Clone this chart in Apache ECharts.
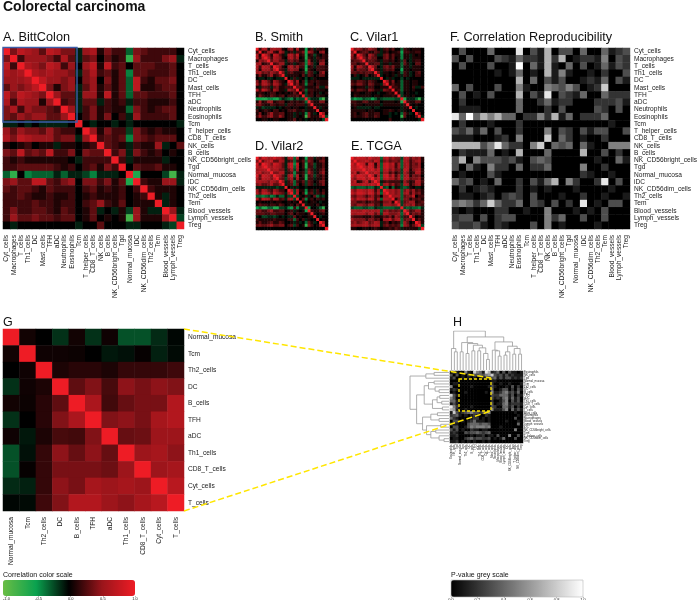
<!DOCTYPE html>
<html>
<head>
<meta charset="utf-8">
<script src="https://cdn.jsdelivr.net/npm/echarts@6/dist/echarts.min.js"></script>
<style>html,body{margin:0;padding:0;background:#fff}#chartmain{width:700px;height:600px}</style>
</head>
<body>
<div id="chartmain"></div>
<script>
var font = '"Liberation Sans", Arial, sans-serif';

var cellNames = ['Cyt_cells','Macrophages','T_cells','Th1_cells','DC','Mast_cells','TFH','aDC','Neutrophils','Eosinophils','Tcm','T_helper_cells','CD8_T_cells','NK_cells','B_cells','NK_CD56bright_cells','Tgd','Normal_mucosa','iDC','NK_CD56dim_cells','Th2_cells','Tem','Blood_vessels','Lymph_vessels','Treg'];
var zoomNames = ['Normal_mucosa','Tcm','Th2_cells','DC','B_cells','TFH','aDC','Th1_cells','CD8_T_cells','Cyt_cells','T_cells'];
var clusterNames = ['Eosinophils','NK_cells','Tgd','Normal_mucosa','Tcm','Th2_cells','DC','B_cells','TFH','aDC','Th1_cells','CD8_T_cells','Cyt_cells','T_cells','Mast_cells','Neutrophils','Macrophages','Blood_vessels','Lymph_vessels','iDC','NK_CD56bright_cells','Tem','T_helper_cells','NK_CD56dim_cells','Treg'];

// upper triangles, in tenths
var bittColon = [
[10,4,7,6,5,3,7,6,4,4,-1,5,6,1,4,2,2,-3,4,3,2,2,2,2,0],
[10,2,5,5,5,4,2,6,3,-1,3,4,0,3,1,2,-7,5,2,2,2,4,5,-1],
[10,6,5,4,7,6,2,5,0,5,7,1,7,2,3,0,3,3,3,2,2,3,0],
[10,6,5,6,5,5,4,-1,4,6,2,3,1,3,-4,3,3,2,2,2,3,0],
[10,7,5,5,4,5,0,4,5,0,4,1,3,-3,7,2,1,3,3,4,0],
[10,4,1,4,5,-1,3,5,1,3,1,3,-3,7,1,1,2,3,3,0],
[10,5,3,3,-1,5,5,1,7,1,3,-3,3,3,2,2,2,3,0],
[10,2,3,-1,3,3,-1,2,1,2,-1,2,2,1,1,1,2,0],
[10,5,-1,2,4,1,2,1,1,-3,4,2,1,2,3,3,0],
[10,0,2,4,1,4,0,2,-1,5,2,2,2,2,3,0],
[10,0,-1,0,0,-1,0,-1,0,0,0,0,0,0,-1],
[10,5,1,4,2,2,-2,4,2,1,2,1,1,0],
[10,2,3,2,3,-4,4,3,2,3,3,3,0],
[10,3,2,1,-1,2,1,1,5,-1,0,3],
[10,2,4,-1,4,2,1,2,0,1,0],
[10,2,-1,1,1,1,1,-1,0,0],
[10,0,3,2,2,3,1,1,0],
[10,-6,0,0,0,-2,-8,-1],
[10,2,1,1,5,5,-1],
[10,2,1,1,1,0],
[10,1,-1,1,0],
[10,-1,1,0],
[10,5,-1],
[10,-2],
[10]];

var smith = [
[10,2,6,6,1,5,6,5,5,1,0,4,5,1,6,1,1,-5,1,3,-1,2,1,2,0],
[10,1,2,5,6,2,1,6,4,-1,1,2,-1,2,2,4,-5,5,4,1,0,4,5,0],
[10,7,4,1,7,6,3,1,-1,6,6,3,7,1,2,-6,1,2,-2,1,0,2,1],
[10,5,2,6,5,4,1,0,5,6,3,5,0,1,-6,2,1,-1,2,1,2,1],
[10,3,5,5,3,3,-1,3,4,2,3,1,1,-4,5,1,-1,1,3,4,0],
[10,2,3,5,5,-1,1,2,-1,1,2,3,-4,5,3,-1,0,5,5,0],
[10,7,4,1,0,5,6,3,5,2,2,-5,1,2,-1,2,2,2,1],
[10,3,2,-1,4,5,4,4,0,1,-6,2,1,0,2,2,2,1],
[10,4,-1,2,3,1,1,1,2,-3,3,2,-1,0,3,5,0],
[10,-1,1,1,1,1,0,3,-1,3,2,0,1,3,3,0],
[10,0,-1,2,-1,1,0,-2,0,-1,1,0,0,0,0],
[10,6,2,5,0,2,-3,1,2,1,2,1,1,1],
[10,2,4,1,2,-4,2,2,0,2,1,1,1],
[10,3,3,2,-1,1,1,1,3,-1,-1,3],
[10,1,3,-3,2,2,1,1,1,1,0],
[10,1,-2,1,2,0,1,-1,0,1],
[10,-2,2,2,0,2,1,1,0],
[10,-3,-1,-1,-1,-4,-8,-1],
[10,3,1,1,4,4,0],
[10,1,1,1,1,1],
[10,1,-1,1,0],
[10,0,1,1],
[10,5,0],
[10,-2],
[10]];

var vilar1 = [
[10,4,5,4,2,3,5,4,3,0,-1,2,3,1,3,0,0,-3,2,1,0,1,1,1,0],
[10,1,2,3,3,1,1,3,2,-1,1,2,0,1,1,2,-5,2,2,1,1,2,2,0],
[10,6,3,1,6,4,2,-1,-1,3,4,1,3,1,1,-4,1,1,-1,1,0,1,0],
[10,4,2,5,3,3,0,0,3,4,1,3,0,1,-4,1,1,-1,1,1,1,0],
[10,2,3,3,2,1,-1,2,2,1,2,0,1,-2,3,0,-1,1,2,2,0],
[10,2,2,3,3,-1,1,1,-1,1,1,1,-3,3,1,-1,0,3,3,0],
[10,6,3,0,-1,3,4,2,4,1,1,-3,1,1,-1,1,1,1,0],
[10,2,1,-1,2,3,2,3,0,0,-5,1,1,0,1,1,1,0],
[10,3,-1,1,1,0,1,0,1,-3,2,1,-1,0,2,3,0],
[10,-1,0,1,0,1,-1,1,-1,2,1,-1,0,2,2,0],
[10,0,-1,1,-1,0,0,-2,0,-1,0,0,0,0,0],
[10,5,1,4,0,1,-3,1,1,0,1,1,0,0],
[10,1,3,1,1,-3,1,1,0,1,1,0,0],
[10,2,2,1,-3,1,1,0,2,-1,-1,2],
[10,1,2,-3,1,1,0,1,0,0,0],
[10,1,-2,0,1,0,0,-1,0,0],
[10,-2,1,1,0,1,0,0,0],
[10,-6,-1,-1,-1,-3,-7,-1],
[10,2,1,1,3,3,0],
[10,1,0,1,0,0],
[10,0,-1,0,0],
[10,0,0,0],
[10,3,0],
[10,-1],
[10]];

var vilar2 = [
[10,4,8,7,5,6,8,6,6,4,-1,5,6,-3,6,0,1,-5,3,3,-1,2,1,3,0],
[10,3,5,6,7,3,3,6,5,-1,2,3,-3,2,1,3,-3,4,3,0,1,3,4,0],
[10,8,6,4,8,7,5,3,-1,6,7,-4,7,0,2,-6,2,3,-2,1,1,3,0],
[10,6,5,7,6,5,3,-1,5,7,-3,6,0,2,-6,2,2,-2,1,1,3,0],
[10,5,6,6,4,4,-1,3,5,-2,5,0,1,-3,4,2,-1,1,2,4,0],
[10,4,4,6,6,-1,2,3,-4,2,1,2,-3,5,3,-1,1,3,5,0],
[10,7,5,3,-1,5,7,-3,6,0,2,-6,2,3,-2,2,1,3,0],
[10,4,3,-2,4,5,-1,5,1,1,-6,2,2,-1,1,1,3,0],
[10,5,-1,2,4,-3,2,1,3,-2,3,2,0,1,3,4,0],
[10,-1,2,3,-3,3,0,2,-2,3,2,-1,1,2,4,0],
[10,0,-1,1,-1,0,0,-1,0,0,0,0,0,0,0],
[10,6,-2,5,1,1,-4,1,2,-1,2,0,2,0],
[10,-2,6,0,2,-5,2,3,-1,2,1,3,0],
[10,-2,1,0,2,-1,0,3,-3,-1,-2,0],
[10,0,3,-4,1,2,0,2,1,2,0],
[10,1,-1,0,1,1,0,-1,0,0],
[10,-1,1,1,0,2,0,1,0],
[10,-5,0,0,-1,-3,-7,0],
[10,2,1,1,3,4,0],
[10,1,0,1,2,0],
[10,0,-1,0,0],
[10,0,1,0],
[10,5,0],
[10,0],
[10]];

var tcga = [
[10,6,8,7,7,5,8,6,5,6,-3,6,7,4,6,4,4,-2,6,6,3,5,4,5,1],
[10,5,6,6,7,5,4,7,6,-2,4,5,3,4,4,3,-3,6,5,2,4,5,6,1],
[10,8,7,2,8,7,1,6,-3,7,8,5,7,2,5,-3,5,6,2,4,3,5,0],
[10,7,5,8,7,2,6,-3,7,8,5,6,2,5,-3,5,6,2,4,4,5,0],
[10,6,7,8,5,7,-3,6,7,4,6,3,4,-2,7,6,1,4,5,6,1],
[10,5,5,7,6,-2,5,5,2,4,1,3,-2,6,4,1,2,6,6,1],
[10,7,2,6,-3,7,8,4,7,2,5,-3,5,6,1,4,3,4,0],
[10,5,7,-3,6,7,5,6,3,5,-3,6,6,3,4,4,5,1],
[10,6,-1,2,3,2,2,2,2,-1,5,3,1,2,6,6,2],
[10,-2,5,6,3,5,2,3,-2,6,5,1,3,5,6,1],
[10,-2,-3,0,-3,1,-1,-2,-3,-2,1,0,-1,-1,0],
[10,7,5,6,4,5,-3,4,6,3,5,2,3,1],
[10,5,6,4,5,-3,5,6,2,5,3,4,1],
[10,5,5,5,-3,3,4,4,7,0,2,2],
[10,1,4,-3,4,4,1,3,2,3,1],
[10,5,-2,3,4,5,5,1,2,3],
[10,-2,4,5,4,6,2,3,2],
[10,-2,-3,-2,-3,-3,-4,-1],
[10,5,2,3,5,5,1],
[10,2,4,3,4,1],
[10,3,0,1,1],
[10,1,3,1],
[10,6,1],
[10,-2],
[10]];

var reproducibility = [
[0,3,0,0,0,4,0,0,0,9,0,3,1,7,0,3,3,0,4,0,0,4,1,2,3],
[0,3,0,0,0,3,2,1,4,2,2,1,7,2,7,0,1,2,2,1,5,0,3,2],
[0,0,0,3,0,0,1,10,0,4,1,7,1,0,4,0,3,0,1,4,1,3,2],
[0,0,0,1,0,1,4,0,1,0,7,1,5,1,0,0,1,0,2,0,0,3],
[0,0,0,0,0,7,0,4,0,3,1,3,0,0,1,2,1,4,0,3,1],
[0,3,0,0,5,1,0,0,5,4,3,5,3,0,1,2,8,0,0,0],
[0,0,0,7,0,3,1,9,0,3,2,1,4,0,0,4,2,2,2],
[0,0,4,0,0,2,4,1,2,2,0,0,0,2,2,2,3,1],
[0,4,0,0,0,2,0,3,0,0,0,0,3,2,0,3,0],
[0,2,2,5,2,7,1,4,0,2,2,2,4,0,0,0],
[0,0,0,0,0,0,0,0,0,0,0,0,1,0,0],
[0,0,5,0,3,2,0,3,1,3,3,0,0,3],
[0,8,0,4,2,0,1,0,0,2,0,0,0],
[0,4,3,4,0,4,1,0,0,5,5,5],
[0,0,0,0,7,0,0,3,0,2,0],
[0,0,0,0,0,1,0,0,4,1],
[0,0,5,0,0,2,0,0,0],
[0,2,1,0,0,1,0,0],
[0,0,2,9,0,3,0],
[0,0,0,1,0,0],
[0,1,0,0,1],
[0,3,3,0],
[0,0,0],
[0,0],
[0]];

var zoomCorr = [
[1,0.06,0,-0.15,0.06,-0.15,0.05,-0.25,-0.25,-0.13,-0.02],
[1,0.05,0.05,0.04,0,-0.07,-0.05,0.02,-0.1,-0.03],
[1,0.09,0.13,0.13,0.09,0.17,0.17,0.17,0.2],
[1,0.31,0.42,0.23,0.46,0.39,0.46,0.42],
[1,0.6,0.21,0.33,0.39,0.39,0.64],
[1,0.42,0.46,0.39,0.57,0.64],
[1,0.33,0.35,0.52,0.52],
[1,0.52,0.57,0.46],
[1,0.52,0.57],
[1,0.68],
[1]];

var clusterP = [
[0,3,1,0,0,5,1,0,8,5,4,1,9,7,1,2,4,0,3,0,3,1,1,0,1],
[0,3,0,1,0,2,1,3,3,4,3,5,6,8,3,2,3,1,3,1,2,1,1,1],
[0,0,1,0,1,0,1,0,1,1,2,1,3,4,1,3,1,3,3,1,2,1,2],
[0,0,0,0,0,0,0,0,0,0,0,1,1,0,0,0,0,0,0,0,0,0],
[0,0,0,0,0,0,0,0,0,0,2,0,0,1,0,0,1,0,0,0,1],
[0,0,1,0,0,0,0,0,1,3,1,0,0,0,1,0,3,0,2,0],
[0,0,0,0,0,0,0,0,4,0,0,1,3,3,0,2,0,3,1],
[0,0,0,0,0,1,0,5,1,1,2,4,5,2,3,1,4,0],
[0,0,0,0,0,0,3,2,2,4,4,4,1,3,0,2,1],
[0,0,0,0,0,3,1,2,1,4,5,1,4,1,3,0],
[0,0,0,0,2,0,0,1,3,5,0,3,1,3,0],
[0,0,0,3,0,1,1,4,5,1,2,2,2,1],
[0,0,3,2,0,0,4,4,1,3,0,2,0],
[0,5,1,1,1,3,5,0,4,1,3,1],
[0,0,0,0,0,0,0,0,1,0,0],
[0,0,0,0,0,0,0,0,1,0],
[0,0,0,0,0,0,3,0,0],
[0,0,1,0,0,0,1,0],
[0,0,0,0,0,4,0],
[0,0,0,0,0,0],
[0,0,5,0,0],
[0,0,0,0],
[0,3,0],
[0,0],
[0]];

// merges: [position a, height a, position b, height b, joined height]
var topTree = [
[1.5,0,2.5,0,55],[0.5,0,2,55,65],[3.5,0,4.5,0,55],[12.5,0,13.5,0,32],[11.5,0,13,32,50],[9.5,0,10.5,0,58],[10,58,12.25,50,67],
[7.5,0,8.5,0,58],[8,58,11.1,67,75],[5.5,0,6.5,0,50],[6,50,9.5,75,80],[4,55,7.8,80,83],
[16.5,0,17.5,0,42],[15.5,0,17,42,58],[14.5,0,16.25,58,60],[18.5,0,19.5,0,45],[19,45,20.5,0,55],[21.5,0,22.5,0,48],[23.5,0,24.5,0,48],[22,48,24,48,65],[19.75,55,23,65,72],[15.4,60,21.4,72,85],
[5.9,83,18.4,85,100],[1.25,65,12.1,100,118]];
var leftTree = [
[0.5,0,1.5,0,45],[1,45,2.5,0,70],[3.5,0,4.5,0,45],[6.5,0,7.5,0,30],[5.5,0,7,30,42],[4,45,6.25,42,62],
[8.5,0,9.5,0,28],[10.5,0,11.5,0,22],[9,28,11,22,36],[12.5,0,13.5,0,20],[10,36,13,20,50],[5.1,62,11.5,50,75],
[14.5,0,15.5,0,35],[16.5,0,17.5,0,30],[15,35,17,30,55],[18.5,0,19.5,0,25],[20.5,0,21.5,0,40],[23.5,0,24.5,0,15],[22.5,0,24,15,30],[21,40,23.25,30,55],[19,25,22.1,55,68],[16,55,20.5,68,80],
[8.3,75,18.3,80,98],[1.75,70,13.3,98,118]];

var corrTicks = [-1, -0.5, 0, 0.5, 1];

function mirror(tri) {
    var out = [];
    for (var i = 0; i < tri.length; i++) {
        for (var k = 0; k < tri[i].length; k++) {
            out.push([i + k, i, tri[i][k]]);
            if (k > 0) out.push([i, i + k, tri[i][k]]);
        }
    }
    return out;
}
function tenths(rows) {
    return mirror(rows).map(function (d) { return [d[0], d[1], d[2] / 10]; });
}
function treeLines(merges, flip) {
    return merges.map(function (m) {
        var pts = [[m[0], m[1]], [m[0], m[4]], [m[2], m[4]], [m[2], m[3]]];
        return { coords: flip ? pts.map(function (p) { return [p[1], p[0]]; }) : pts };
    });
}

var grid = [], xAxis = [], yAxis = [], series = [], title = [];

function heat(box, names, data, labelSize, showLabels, rightMargin, bottomMargin) {
    var g = grid.length;
    grid.push({ left: box[0], top: box[1], width: box[2], height: box[3], containLabel: false });
    xAxis.push({
        type: 'category', gridIndex: g, data: names, axisLine: { show: false }, axisTick: { show: false }, splitLine: { show: false },
        axisLabel: { show: showLabels, interval: 0, rotate: 90, margin: bottomMargin, fontSize: labelSize, fontFamily: font, color: '#222' }
    });
    yAxis.push({
        type: 'category', gridIndex: g, data: names, inverse: true, position: 'right', axisLine: { show: false }, axisTick: { show: false }, splitLine: { show: false },
        axisLabel: { show: showLabels, interval: 0, margin: rightMargin, fontSize: labelSize, fontFamily: font, color: '#222' }
    });
    series.push({ type: 'heatmap', xAxisIndex: g, yAxisIndex: g, data: data, silent: true, progressive: 0, animation: false });
}
function tree(box, xMax, yMax, xInverse, yInverse, lines) {
    var g = grid.length;
    grid.push({ left: box[0], top: box[1], width: box[2], height: box[3] });
    xAxis.push({ type: 'value', gridIndex: g, min: 0, max: xMax, inverse: xInverse, show: false });
    yAxis.push({ type: 'value', gridIndex: g, min: 0, max: yMax, inverse: yInverse, show: false });
    series.push({
        type: 'lines', coordinateSystem: 'cartesian2d', xAxisIndex: g, yAxisIndex: g, polyline: true, silent: true, animation: false,
        lineStyle: { color: '#9a9a9a', width: 0.8, opacity: 1 }, data: lines
    });
}
function scaleAxis(box, min, max, interval) {
    var g = grid.length;
    grid.push({ left: box[0], top: box[1], width: box[2], height: 1 });
    xAxis.push({
        type: 'value', gridIndex: g, min: min, max: max, interval: interval,
        axisLine: { show: false }, splitLine: { show: false }, axisTick: { length: 1, lineStyle: { color: '#444', width: 0.5 } },
        axisLabel: { fontSize: 4, margin: 1, color: '#222', fontFamily: font, formatter: function (v) { return v.toFixed(1); } }
    });
    yAxis.push({ type: 'value', gridIndex: g, show: false });
}
function label(text, x, y, size, bold) {
    title.push({ text: text, left: x, top: y, padding: 0, textStyle: { fontSize: size, fontWeight: bold ? 'bold' : 'normal', color: '#111', fontFamily: font } });
}

heat([3, 48, 181, 181], cellNames, tenths(bittColon), 6.6, true, 4, 6);
heat([256, 48, 72, 73], cellNames, tenths(smith), 6.6, false, 3, 5);
heat([351, 48, 73, 73], cellNames, tenths(vilar1), 6.6, false, 3, 5);
heat([256, 157, 72, 73], cellNames, tenths(vilar2), 6.6, false, 3, 5);
heat([351, 157, 73, 73], cellNames, tenths(tcga), 6.6, false, 3, 5);
heat([452, 48, 181, 181], cellNames, tenths(reproducibility), 6.6, true, 4, 6);
heat([3, 329, 181, 182], zoomNames, mirror(zoomCorr), 6.6, true, 4, 6);
heat([450, 371, 73, 72], clusterNames, tenths(clusterP), 2.8, true, 1, 1.5);
tree([450, 331, 73, 39], 25, 118, false, false, treeLines(topTree, false));
tree([410, 371, 39, 72], 118, 25, true, true, treeLines(leftTree, true));
scaleAxis([3, 596, 132], corrTicks[0], corrTicks[corrTicks.length - 1], 0.5);
scaleAxis([451, 597, 132], 0, 1, 0.2);

label('Colorectal carcinoma', 3, 0, 14, true);
label('A. BittColon', 3, 31, 12.7);
label('B. Smith', 255, 31, 12.7);
label('C. Vilar1', 350, 31, 12.7);
label('D. Vilar2', 255, 140, 12.7);
label('E. TCGA', 351, 140, 12.7);
label('F. Correlation Reproducibility', 450, 31, 12.7);
label('G', 3, 316, 12.5);
label('H', 453, 316, 12.5);
label('Correlation color scale', 3, 572, 7);
label('P-value grey scale', 451, 572, 7);

var option = {
    animation: false,
    backgroundColor: '#fff',
    title: title,
    grid: grid,
    xAxis: xAxis,
    yAxis: yAxis,
    visualMap: [
        {
            type: 'continuous', min: -1, max: 1, seriesIndex: [0, 1, 2, 3, 4, 6], orient: 'horizontal', left: 3, top: 580, padding: 0,
            itemWidth: 16, itemHeight: 132, text: ['', ''], calculable: false, realtime: false, hoverLink: false,
            textStyle: { fontSize: 1 }, inRange: { color: ['#6abd45', '#0aa24f', '#000000', '#9a151b', '#ee1c25'] }
        },
        {
            type: 'continuous', min: 0, max: 1, seriesIndex: [5, 7], orient: 'horizontal', left: 451, top: 580, padding: 0,
            itemWidth: 17, itemHeight: 132, text: ['', ''], calculable: false, realtime: false, hoverLink: false,
            textStyle: { fontSize: 1 }, inRange: { color: ['#000000', '#ffffff'] }
        }
    ],
    series: series,
    graphic: [
        { type: 'rect', z: 100, shape: { x: 3, y: 47.5, width: 74, height: 74.5 }, style: { fill: null, stroke: '#3d5ea8', lineWidth: 1.4 } },
        { type: 'rect', z: 100, shape: { x: 451, y: 580, width: 132, height: 17 }, style: { fill: null, stroke: '#bbbbbb', lineWidth: 0.6 } },
        { type: 'polyline', z: 100, shape: { points: [[184, 329], [491, 378]] }, style: { fill: null, stroke: '#ffe600', lineWidth: 1.5, lineDash: [6, 3] } },
        { type: 'polyline', z: 100, shape: { points: [[184, 511], [491, 411]] }, style: { fill: null, stroke: '#ffe600', lineWidth: 1.5, lineDash: [6, 3] } },
        { type: 'rect', z: 100, shape: { x: 459, y: 379, width: 32, height: 32 }, style: { fill: null, stroke: '#ffe600', lineWidth: 1.3, lineDash: [3, 2] } }
    ]
};

var myChart = echarts.init(document.getElementById('chartmain'));
myChart.setOption(option);
</script>
</body>
</html>
